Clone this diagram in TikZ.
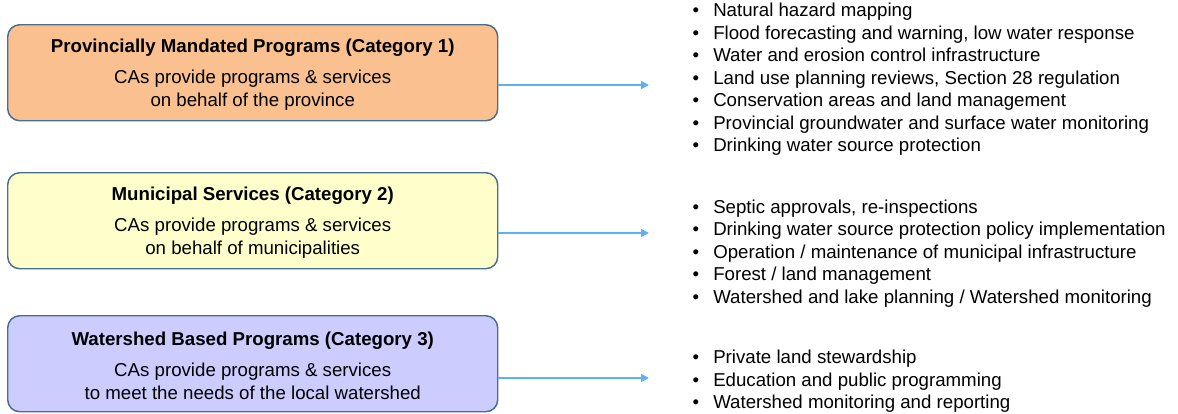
\documentclass[tikz,border=0pt]{standalone}
\usepackage{fontspec}
\setmainfont{Liberation Sans}
\usetikzlibrary{arrows.meta}

\definecolor{catorange}{HTML}{FAC090}
\definecolor{catyellow}{HTML}{FFFFCC}
\definecolor{catblue}{HTML}{CCCCFF}
\definecolor{boxline}{HTML}{4A6E8E}
\definecolor{flowblue}{HTML}{5CB0F4}

\newcommand{\bul}{\makebox[15pt][l]{\hspace{-0.5pt}\textbullet}}

\begin{document}
\begin{tikzpicture}[x=0.75pt,y=-0.75pt,
    catbox/.style={draw=boxline,line width=1.1pt,rounded corners=9pt,
        minimum width=367.5pt,minimum height=72pt,anchor=north west,
        align=center,font=\fontsize{14}{17.3}\selectfont},
    itemlist/.style={anchor=west,align=left,inner sep=0pt,
        font=\fontsize{14}{16.9}\selectfont},
    flow/.style={flowblue,line width=1.1pt,-{Triangle[length=6pt,width=6pt]}}]
    \useasboundingbox (0,0) rectangle (1178,414);

    % category boxes
    \node[catbox,fill=catorange] (p1) at (7,24)
        {\rule{0pt}{13pt}\textbf{Provincially Mandated Programs (Category 1)}\\[6pt]
         CAs provide programs \& services\\on behalf of the province};
    \node[catbox,fill=catyellow] (p2) at (7,172)
        {\rule{0pt}{13pt}\textbf{Municipal Services (Category 2)}\\[6pt]
         CAs provide programs \& services\\on behalf of municipalities};
    \node[catbox,fill=catblue] (p3) at (7,315)
        {\rule{0pt}{13pt}\textbf{Watershed Based Programs (Category 3)}\\[6pt]
         CAs provide programs \& services\\to meet the needs of the local watershed};

    % arrow ends
    \coordinate (e1) at (649,85);
    \coordinate (e2) at (649,233);
    \coordinate (e3) at (649,378);

    \draw[flow] (p1.east |- e1) -- (e1);
    \draw[flow] (p2.east |- e2) -- (e2);
    \draw[flow] (p3.east |- e3) -- (e3);

    % lists
    \node[itemlist] (l1) at (693,79.5)
        {\bul Natural hazard mapping\\
         \bul Flood forecasting and warning, low water response\\
         \bul Water and erosion control infrastructure\\
         \bul Land use planning reviews, Section 28 regulation\\
         \bul Conservation areas and land management\\
         \bul Provincial groundwater and surface water monitoring\\
         \bul Drinking water source protection};
    \node[itemlist] (l2) at (693,253.5)
        {\bul Septic approvals, re-inspections\\
         \bul Drinking water source protection policy implementation\\
         \bul Operation / maintenance of municipal infrastructure\\
         \bul Forest / land management\\
         \bul Watershed and lake planning / Watershed monitoring};
    \node[itemlist] (l3) at (693,381.5)
        {\bul Private land stewardship\\
         \bul Education and public programming\\
         \bul Watershed monitoring and reporting};
\end{tikzpicture}
\end{document}
